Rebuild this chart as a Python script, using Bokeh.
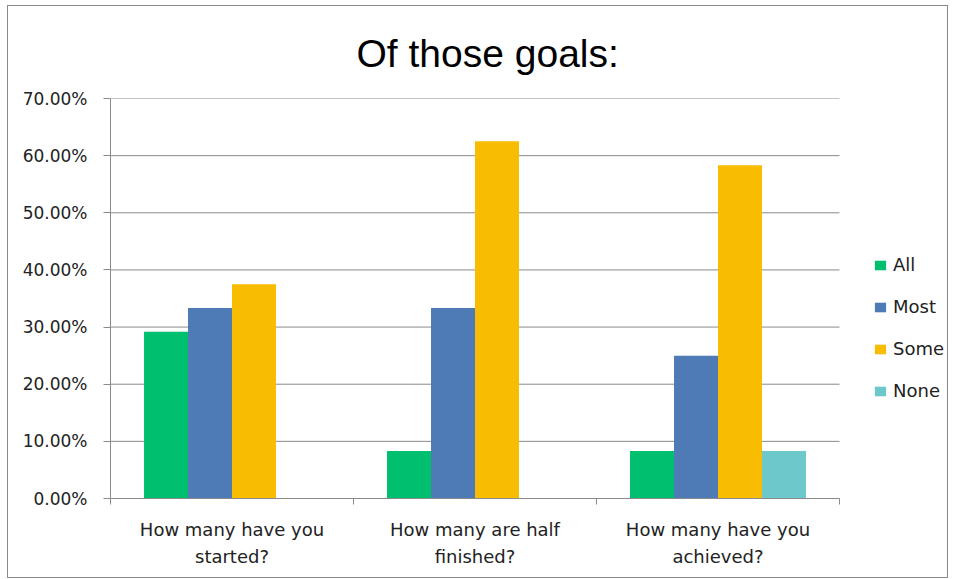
from bokeh.plotting import figure
from bokeh.models import (ColumnDataSource, FixedTicker, NumeralTickFormatter,
                          Legend, LegendItem, Range1d)
from bokeh.transform import dodge
from bokeh.embed import file_html
from bokeh.resources import INLINE

questions = ["How many have you\nstarted?", "How many are half\nfinished?", "How many have you\nachieved?"]
series = ["All", "Most", "Some", "None"]
all_vals = [0.2917, 0.0833, 0.0833]
most_vals = [0.3333, 0.3333, 0.25]
some_vals = [0.375, 0.625, 0.5833]
none_vals = [0.0, 0.0, 0.0833]
colors = ["#00BF6F", "#4E7AB5", "#F8BC00", "#6CC8CB"]
y_ticks = [0.0, 0.1, 0.2, 0.3, 0.4, 0.5, 0.6, 0.7]

n = len(questions)
centers = [i + 0.5 for i in range(n)]
boundaries = [float(i) for i in range(n + 1)]

src = ColumnDataSource(dict(x=centers, All=all_vals, Most=most_vals, Some=some_vals, NoneS=none_vals))
cols = ["All", "Most", "Some", "NoneS"]
grid_src = ColumnDataSource(dict(x0=[0.0] * len(y_ticks), x1=[float(n)] * len(y_ticks), y=y_ticks))

W, H = 941, 573
LEFT = 102
PLOT_W = 729           # pixel width of the category area
FRAME_W = W - LEFT     # frame extends to the right edge to host the legend
p = figure(width=W, height=H, output_backend="svg", toolbar_location=None,
           x_range=Range1d(0, n * FRAME_W / PLOT_W), y_range=Range1d(0, 0.7),
           min_border_left=LEFT, min_border_right=0, min_border_top=92, min_border_bottom=81)
p.styles = {"border": "1px solid #8a8a8a", "margin-left": "7px", "margin-top": "5px"}

p.title.text = "Of those goals:"
p.title.text_font = "Liberation Sans"
p.title.text_font_size = "39px"
p.title.text_font_style = "normal"
p.title.text_color = "#000000"
p.title.align = "left"
p.title.offset = 246
p.title.standoff = 47

# horizontal gridlines limited to the category area
p.segment(x0="x0", x1="x1", y0="y", y1="y", source=grid_src,
          line_color="#8a8a8a", line_width=1)

bw = 0.181
offsets = [-1.5 * bw, -0.5 * bw, 0.5 * bw, 1.5 * bw]
items = []
for name, col, off, c in zip(series, cols, offsets, colors):
    r = p.vbar(x=dodge("x", off, range=p.x_range), top=col, width=bw, source=src,
               fill_color=c, line_color=None)
    items.append(LegendItem(label=name, renderers=[r]))

legend = Legend(items=items, location=(763, 97), orientation="vertical",
                glyph_width=14, glyph_height=12, label_height=20, spacing=21,
                padding=0, margin=0, label_standoff=6,
                label_text_font="DejaVu Sans", label_text_font_size="18px",
                label_text_color="#222222", border_line_color=None,
                background_fill_alpha=0)
p.add_layout(legend, "center")

p.outline_line_color = None
p.background_fill_color = "white"

# y axis
p.yaxis.ticker = FixedTicker(ticks=y_ticks)
p.yaxis.formatter = NumeralTickFormatter(format="0.00%")
p.yaxis.axis_line_color = "#8a8a8a"
p.yaxis.major_tick_line_color = "#8a8a8a"
p.yaxis.major_tick_out = 7
p.yaxis.major_tick_in = 0
p.yaxis.minor_tick_line_color = None
p.yaxis.major_label_text_font = "DejaVu Sans"
p.yaxis.major_label_text_font_size = "17px"
p.yaxis.major_label_text_color = "#222222"
p.yaxis.major_label_standoff = 16

# x axis
p.xaxis.ticker = FixedTicker(ticks=centers, minor_ticks=boundaries)
p.xaxis.bounds = (0, n)
p.xaxis.major_label_overrides = {c: q for c, q in zip(centers, questions)}
p.xaxis.axis_line_color = "#8a8a8a"
p.xaxis.major_tick_line_color = None
p.xaxis.minor_tick_line_color = "#8a8a8a"
p.xaxis.minor_tick_out = 6
p.xaxis.minor_tick_in = 0
p.xaxis.major_label_text_font = "DejaVu Sans"
p.xaxis.major_label_text_font_size = "18px"
p.xaxis.major_label_text_line_height = 1.3
p.xaxis.major_label_text_color = "#222222"
p.xaxis.major_label_standoff = 14

p.xgrid.grid_line_color = None
p.ygrid.grid_line_color = None

open("out.html", "w").write(file_html(p, INLINE))
